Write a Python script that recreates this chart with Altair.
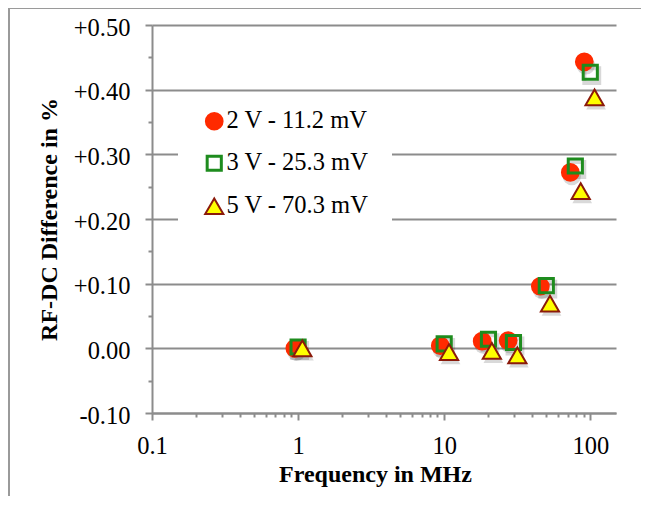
import altair as alt
import pandas as pd

# ---------------- data ----------------
series_names = ["2 V - 11.2 mV", "3 V - 25.3 mV", "5 V - 70.3 mV"]

freq_2v = [0.95, 9.4, 18.2, 27.4, 45.5, 73.0, 91.0]
diff_2v = [0.000, 0.004, 0.011, 0.012, 0.096, 0.272, 0.443]

freq_3v = [1.0, 10.0, 20.1, 29.8, 50.0, 79.0, 100.0]
diff_3v = [0.002, 0.007, 0.014, 0.009, 0.097, 0.282, 0.427]

freq_5v = [1.07, 10.8, 21.2, 31.7, 53.0, 86.0, 107.0]
diff_5v = [0.000, -0.006, -0.004, -0.011, 0.069, 0.243, 0.388]

x_major = [0.1, 1, 10, 100]
x_minor = [0.2, 0.3, 0.4, 0.5, 0.6, 0.7, 0.8, 0.9,
           2, 3, 4, 5, 6, 7, 8, 9,
           20, 30, 40, 50, 60, 70, 80, 90]
y_ticks = [-0.10, -0.05, 0.00, 0.05, 0.10, 0.15, 0.20, 0.25,
           0.30, 0.35, 0.40, 0.45, 0.50]

fill_colors = ["#FF2A00", "transparent", "#FFFF00"]
stroke_colors = ["#FF2A00", "#1E8C1E", "#8B1A0A"]
shapes = ["circle", "square", "triangle-up"]
marker_sizes = [280, 200, 330]
stroke_widths = [2, 3, 2]

rows = []
for name, fs, vs in zip(series_names, [freq_2v, freq_3v, freq_5v],
                        [diff_2v, diff_3v, diff_5v]):
    for f, v in zip(fs, vs):
        rows.append({"series": name, "freq": f, "diff": v})
df = pd.DataFrame(rows)

FONT = "Liberation Serif"
GRAY = "#8C8C8C"

x_test = "indexof([0.1, 1, 10, 100], datum.value) >= 0"
y_minor_test = "round(datum.value * 20) % 2 != 0"

x_scale = alt.Scale(type="log", domain=[0.1, 150], nice=False)
y_scale = alt.Scale(domain=[-0.10, 0.50], nice=False, zero=False)

x_axis = alt.Axis(
    values=x_major + x_minor,
    labelExpr=x_test + " ? format(datum.value, '~g') : ''",
    tickSize={"condition": {"test": x_test, "value": 7}, "value": 4},
    grid=False,
    title="Frequency in MHz",
    titleX=223, titleY=68, titleBaseline="alphabetic",
    labelBaseline="alphabetic", labelPadding=33,
    labelFlush=False,
)

y_axis = alt.Axis(
    values=y_ticks,
    labelExpr=y_minor_test + " ? '' : (datum.value < -0.001 ? '-' + format(-datum.value, '.2f') : (datum.value > 0.001 ? '+' + format(datum.value, '.2f') : '0.00'))",
    tickSize={"condition": {"test": y_minor_test, "value": 4}, "value": 7},
    grid=True,
    gridOpacity={"condition": {"test": y_minor_test, "value": 0}, "value": 1},
    title="RF-DC Difference in %",
    titleX=-96, titleY=194, titleBaseline="alphabetic", titleAlign="center",
    labelPadding=15, labelOffset=3,
)

legend = alt.Legend(
    title=None, orient="none", legendX=50, legendY=84,
    labelFont=FONT, labelFontSize=24.5, labelColor="#000000",
    rowPadding=16, labelOffset=0, labelLimit=400, padding=0,
)

base = alt.Chart(df)

# soft marker shadows
shadows = []
for name, shp, sz in zip(series_names, shapes, marker_sizes):
    if shp == "square":
        mk = base.mark_point(shape=shp, filled=False, stroke="#000000", opacity=0.15,
                             size=sz + 20, strokeWidth=4)
    else:
        mk = base.mark_point(shape=shp, filled=True, color="#000000", opacity=0.15,
                             size=sz + 60, strokeWidth=0)
    shadows.append(
        mk.transform_filter(alt.datum.series == name)
        .encode(x=alt.X("freq:Q", scale=x_scale, axis=x_axis),
                y=alt.Y("diff:Q", scale=y_scale, axis=y_axis),
                xOffset=alt.value(1.5), yOffset=alt.value(3.5))
    )

# white box behind the legend (interrupts the gridlines)
legend_bg = alt.Chart(pd.DataFrame({"k": [0]})).mark_rect(color="white").encode(
    x=alt.value(26), x2=alt.value(240), y=alt.value(75), y2=alt.value(220)
)

points = base.mark_point(opacity=1).encode(
    x=alt.X("freq:Q", scale=x_scale, axis=x_axis),
    y=alt.Y("diff:Q", scale=y_scale, axis=y_axis),
    shape=alt.Shape("series:N", scale=alt.Scale(domain=series_names, range=shapes), legend=legend),
    fill=alt.Fill("series:N", scale=alt.Scale(domain=series_names, range=fill_colors), legend=legend),
    stroke=alt.Stroke("series:N", scale=alt.Scale(domain=series_names, range=stroke_colors), legend=legend),
    size=alt.Size("series:N", scale=alt.Scale(type="ordinal", domain=series_names, range=marker_sizes), legend=legend),
    strokeWidth=alt.StrokeWidth("series:N", scale=alt.Scale(type="ordinal", domain=series_names, range=stroke_widths), legend=legend),
)

# outer frame lines (left and top) of the original picture
frame_left = alt.Chart(pd.DataFrame({"k": [0]})).mark_rule(color="#9A9A9A", strokeWidth=2).encode(
    x=alt.value(-143), y=alt.value(-17), y2=alt.value(480)
)
frame_top = alt.Chart(pd.DataFrame({"k": [0]})).mark_rule(color="#9A9A9A", strokeWidth=2).encode(
    x=alt.value(-143), x2=alt.value(490), y=alt.value(-17)
)

chart = alt.layer(legend_bg, *shadows, points, frame_left, frame_top).properties(
    width=464, height=388,
    autosize=alt.AutoSizeParams(type="none"),
    padding={"left": 144, "top": 17, "right": 25, "bottom": 83},
).configure_view(stroke=None).configure_axis(
    domainColor=GRAY, domainWidth=2, tickColor=GRAY, tickWidth=2,
    gridColor=GRAY, gridWidth=2,
    labelFont=FONT, labelFontSize=24.5, labelColor="#000000",
    titleFont=FONT, titleFontSize=24, titleFontWeight="bold", titleColor="#000000",
).configure_legend(labelFont=FONT)

chart.save("out.html", embed_options={"renderer": "svg", "actions": False})
